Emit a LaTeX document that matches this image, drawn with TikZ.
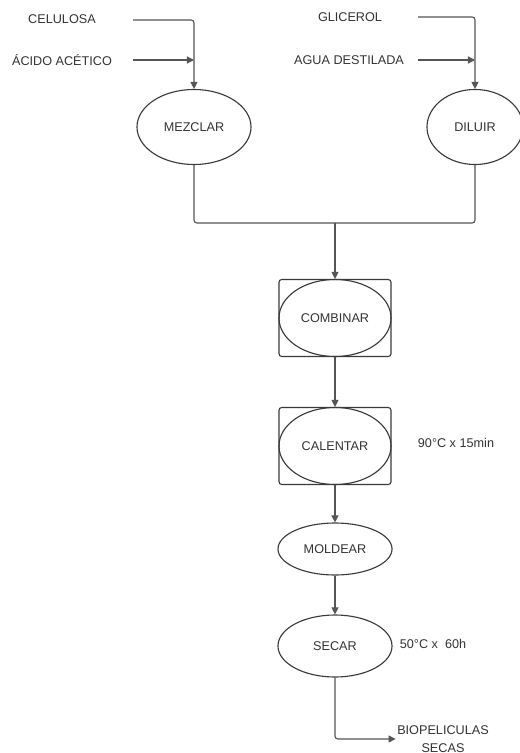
\documentclass[tikz,border=0pt]{standalone}
\usepackage{fontspec}
\setmainfont{Liberation Sans}
\usetikzlibrary{arrows.meta,shapes.geometric}
\definecolor{gristrazo}{HTML}{555555}
\definecolor{grisborde}{HTML}{3a3a3a}
\definecolor{gristexto}{HTML}{333333}

\begin{document}
\begin{tikzpicture}[x=0.025cm,y=-0.025cm,font=\fontsize{9}{12.5}\selectfont,text=gristexto,
  trazo/.style={draw=gristrazo,line width=0.8pt,rounded corners=2pt},
  flecha/.style={trazo,-{Triangle[length=5pt,width=5pt]}},
  proceso/.style={ellipse,draw=grisborde,line width=0.8pt,minimum width=2.85cm,inner sep=0pt},
  caja/.style={rectangle,draw=grisborde,line width=0.8pt,rounded corners=2pt,minimum width=2.8cm,minimum height=1.925cm}]
\useasboundingbox (0,0) rectangle (519,753);
% entradas
\foreach \n/\t/\x/\y in {cel/CELULOSA/62/19, aci/{ÁCIDO ACÉTICO}/62/60, gli/GLICEROL/350/17, agu/AGUA DESTILADA/349/60}
  \node (\n) at (\x,\y) {\t};
\foreach \n/\x/\y in {c1/133/20, c2/133/60, c3/418/17, c4/418/60}
  \coordinate (\n) at (\x,\y);
% procesos
\node[proceso,minimum height=1.875cm] (mezclar) at (194,127) {MEZCLAR};
\node[proceso,minimum width=2.4cm,minimum height=1.875cm] (diluir) at (475,127) {DILUIR};
\coordinate (union) at (335,223);
\node[caja] (combinarcaja) at (335,318) {};
\node[proceso,minimum width=2.8cm,minimum height=1.925cm] (combinar) at (335,318) {COMBINAR};
\node[caja] (calentarcaja) at (335,446) {};
\node[proceso,minimum width=2.8cm,minimum height=1.925cm] (calentar) at (335,446) {CALENTAR};
\node (cond1) at (456,443) {90°C x 15min};
\node[proceso,minimum height=1.3cm] (moldear) at (335,549) {MOLDEAR};
\node[proceso,minimum height=1.55cm] (secar) at (335,646) {SECAR};
\node (cond2) at (433,644) {50°C x\ \ 60h};
\node[align=center,inner sep=1pt] (bio) at (443,739) {BIOPELICULAS\\SECAS};
% conexiones
\draw[flecha] (c1) -| (mezclar.north);
\draw[flecha] (c2) -- (c2 -| mezclar.north);
\draw[flecha] (c3) -| (diluir.north);
\draw[flecha] (c4) -- (c4 -| diluir.north);
\draw[trazo] (mezclar.south) |- (union) -| (diluir.south);
\draw[flecha] (union) -- (combinarcaja.north);
\draw[flecha] (combinarcaja.south) -- (calentarcaja.north);
\draw[flecha] (calentarcaja.south) -- (moldear.north);
\draw[flecha] (moldear.south) -- (secar.north);
\draw[flecha] (secar.south) |- (bio.west);
\end{tikzpicture}
\end{document}
